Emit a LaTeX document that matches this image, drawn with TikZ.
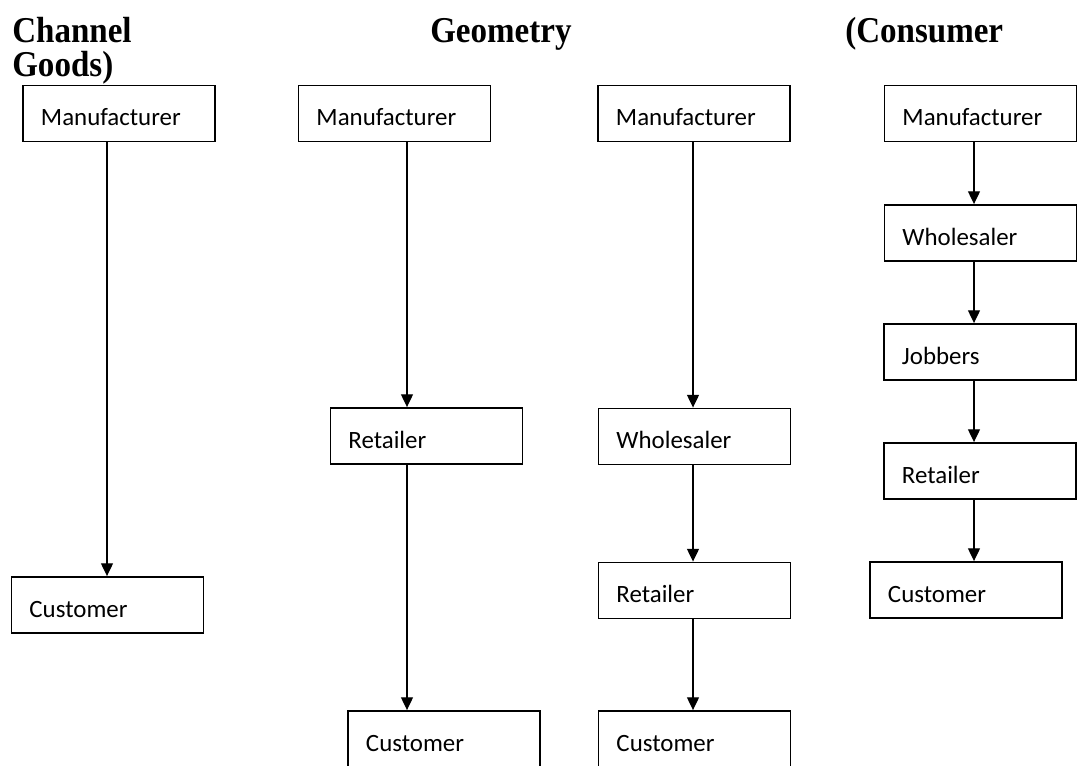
\documentclass[tikz,border=0pt]{standalone}
\usepackage{fontspec}
\usetikzlibrary{arrows.meta}
\newfontfamily\boxfont{Carlito}
\newfontfamily\headfont{Liberation Serif}
\newcommand\tallText[1]{\scalebox{1}[1.1]{#1}}

\begin{document}
\begin{tikzpicture}
[x=0.025cm,y=-0.025cm,%
  boxNode/.style={draw,line width=1.3pt,rectangle,inner xsep=0.45cm,inner ysep=0pt,%
    text width=3.9cm,align=left,minimum height=1.4cm,text height=0.62cm,text depth=0pt,%
    font=\boxfont\fontsize{17.7}{20}\selectfont},%
  arrowLine/.style={line width=1pt,-{Triangle[length=0.32cm,width=0.3cm]}},%
  headText/.style={anchor=base west,inner sep=0pt,font=\headfont\bfseries\fontsize{23.5}{28}\selectfont}]
\useasboundingbox (0,0) rectangle (1080,765);
%% heading
\node[headText] (h1) at (12,42) {\tallText{Channel}};
\node[headText] (h2) at (430,42) {\tallText{Geometry}};
\node[headText] (h3) at (845,42) {\tallText{(Consumer}};
\node[headText] (h4) at (12,76) {\tallText{Goods)}};
%% first channel
\node[boxNode] (m1) at (119,113.5) {Manufacturer};
\node[boxNode] (c1) at (107.5,605) {Customer};
%% second channel
\node[boxNode] (m2) at (394.5,113.5) {Manufacturer};
\node[boxNode] (r2) at (426.5,436) {Retailer};
\node[boxNode] (c2) at (444,739) {Customer};
%% third channel
\node[boxNode] (m3) at (694,113.5) {Manufacturer};
\node[boxNode] (w3) at (694.5,436.5) {Wholesaler};
\node[boxNode] (r3) at (694.5,590.5) {Retailer};
\node[boxNode] (c3) at (694.5,739) {Customer};
%% fourth channel
\node[boxNode] (m4) at (980.5,113.5) {Manufacturer};
\node[boxNode] (w4) at (980.5,233) {Wholesaler};
\node[boxNode] (j4) at (980,352) {Jobbers};
\node[boxNode] (r4) at (980,471) {Retailer};
\node[boxNode] (c4) at (966,590) {Customer};
%% arrow columns
\coordinate (x1) at (107,0);
\coordinate (x2) at (407,0);
\coordinate (x3) at (693,0);
\coordinate (x4) at (974,0);
\foreach \from/\to/\col in {m1/c1/x1, m2/r2/x2, r2/c2/x2, m3/w3/x3, w3/r3/x3,%
  r3/c3/x3, m4/w4/x4, w4/j4/x4, j4/r4/x4, r4/c4/x4}
{
  \draw[arrowLine] (\from.south -| \col) -- (\to.north -| \col);
}
\end{tikzpicture}
\end{document}
